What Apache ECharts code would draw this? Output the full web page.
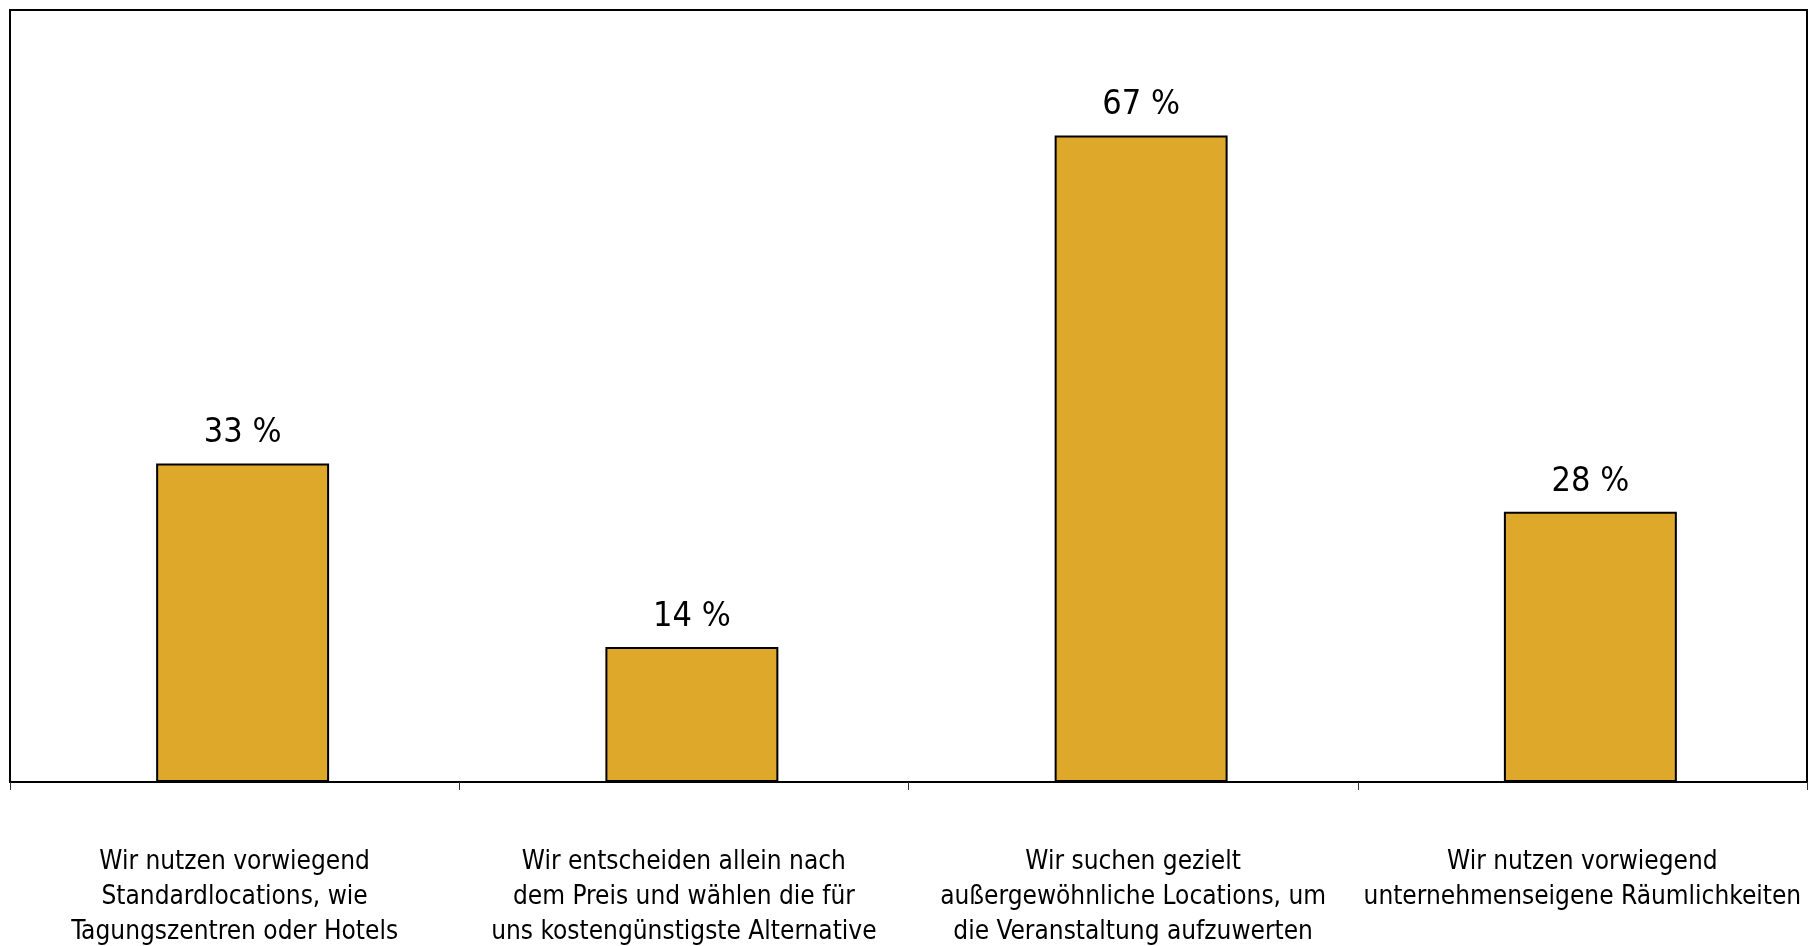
<!DOCTYPE html>
<html>
<head>
<meta charset="utf-8">
<script src="https://cdn.jsdelivr.net/npm/echarts@6/dist/echarts.min.js"></script>
<style>
html,body{margin:0;padding:0;background:#fff;}
#chart{width:1812px;height:946px;}
</style>
</head>
<body>
<div id="chart"></div>
<script>
const categories = [
  "Wir nutzen vorwiegend\nStandardlocations, wie\nTagungszentren oder Hotels",
  "Wir entscheiden allein nach\ndem Preis und wählen die für\nuns kostengünstigste Alternative",
  "Wir suchen gezielt\naußergewöhnliche Locations, um\ndie Veranstaltung aufzuwerten",
  "Wir nutzen vorwiegend\nunternehmenseigene Räumlichkeiten"
];
const values = [33, 14, 67, 28];

const FONT = "'DejaVu Sans Condensed', 'DejaVu Sans', sans-serif";
const chart = echarts.init(document.getElementById('chart'));
chart.setOption({
  animation: false,
  grid: [
    { left: 10, right: 5, top: 10, bottom: 164, outerBoundsMode: 'none', containLabel: false,
      show: true, borderColor: '#000', borderWidth: 2, backgroundColor: '#fff' },
    { left: 18, right: -3, top: 10, bottom: 164, outerBoundsMode: 'none', containLabel: false }
  ],
  xAxis: [
    {
      type: 'category', gridIndex: 0,
      data: categories,
      axisLine: { show: true, lineStyle: { color: '#000', width: 2 } },
      axisTick: { show: true, length: 8, lineStyle: { color: '#333', width: 1 } },
      axisLabel: {
        interval: 0, margin: 63, color: '#000',
        fontFamily: FONT, fontSize: 26, lineHeight: 35, align: 'center'
      }
    },
    {
      type: 'category', gridIndex: 1, data: categories, show: false
    }
  ],
  yAxis: [
    { type: 'value', gridIndex: 0, min: 0, max: 80, show: false, splitLine: { show: false } },
    { type: 'value', gridIndex: 1, min: 0, max: 80, show: false, splitLine: { show: false } }
  ],
  series: [{
    type: 'bar',
    xAxisIndex: 1, yAxisIndex: 1,
    data: values,
    barWidth: '38.5%',
    itemStyle: { color: '#DEA82A', borderColor: '#000', borderWidth: 2 },
    label: {
      show: true, position: 'top', distance: 13,
      formatter: '{c} %', color: '#000',
      fontFamily: FONT, fontSize: 34
    }
  }]
});
</script>
</body>
</html>
